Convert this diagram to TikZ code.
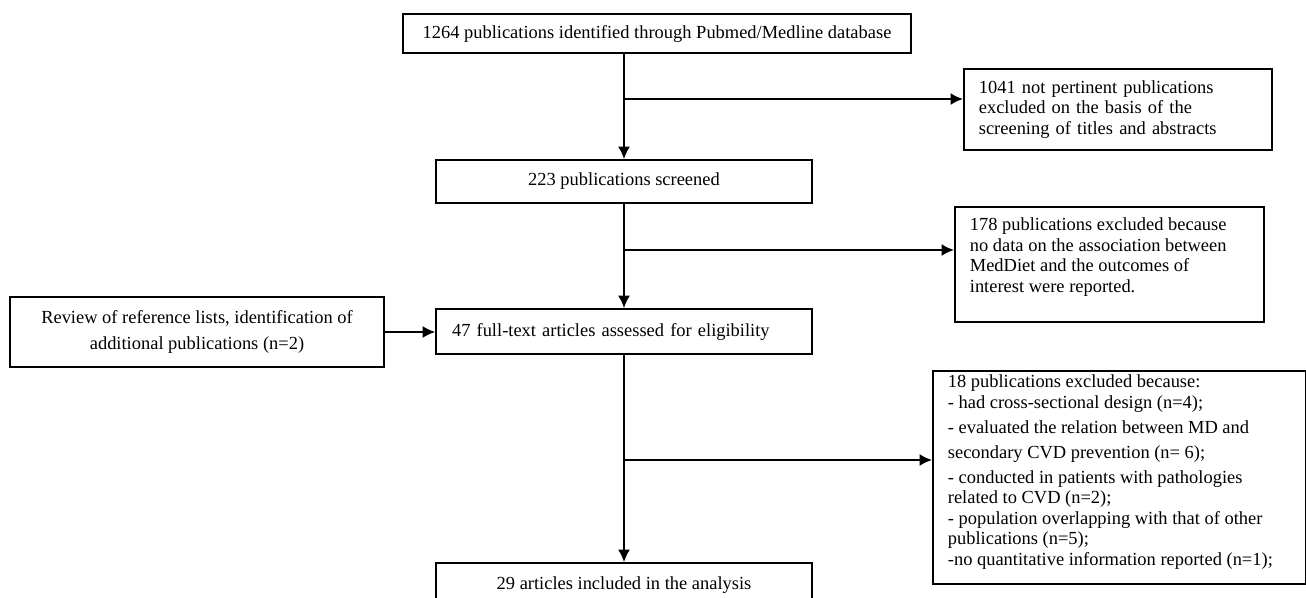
\documentclass[tikz,border=0pt]{standalone}
\usepackage{fontspec}
\setmainfont{Liberation Serif}
\usetikzlibrary{arrows.meta, positioning}

% text block pinned to the top of a fixed-height box
\newcommand{\topbox}[3]{\parbox[t][#1][t]{#2}{\raggedright #3}}

\begin{document}
\begin{tikzpicture}[x=0.02cm, y=-0.02cm, >={Latex[length=0.25cm, width=0.24cm]}, line width=1pt,
    stagebox/.style={draw, rectangle, minimum width=7.52cm, minimum height=0.88cm, align=center, font=\fontsize{10.5}{11.7}\selectfont},
    exclbox/.style={draw, rectangle, anchor=north west, inner xsep=0.3cm, font=\fontsize{10.5}{11.7}\selectfont}]

    \path[use as bounding box, clip] (0,0) rectangle (1306,598);

    % Nodes
    \node (pubmed) [stagebox, minimum width=10.16cm, minimum height=0.78cm] at (657,33.5) {1264 publications identified through Pubmed/Medline database};
    \node (screened) [stagebox, minimum height=0.86cm] at (624,181.5) {223 publications screened};
    \node (fulltext) [stagebox, minimum height=0.9cm, text width=6.88cm, inner xsep=0.32cm, align=left] at (624,331.5) {47 full-text articles assessed for eligibility};
    \node (included) [stagebox, minimum height=0.9cm] at (624,585.5) {29 articles included in the analysis};
    \node (review) [stagebox, minimum width=7.48cm, minimum height=1.4cm] at (197,332) {Review of reference lists, identification of\\[3.6pt] additional publications (n=2)};
    \node (excl1) [exclbox, inner ysep=0pt, minimum height=1.62cm, text width=5.56cm, align=left] at (963,68) {1041 not pertinent publications\\ excluded on the basis of the\\ screening of titles and abstracts};
    \node (excl2) [exclbox, inner ysep=0.22cm] at (954,206) {\topbox{1.86cm}{5.58cm}{178 publications excluded because\\ no data on the association between\\ MedDiet and the outcomes of\\ interest were reported.}};
    \node (excl3) [exclbox, inner ysep=0.08cm] at (932,370) {\topbox{4.1cm}{6.86cm}{18 publications excluded because:\\
        - had cross-sectional design (n=4);\\[2.5pt]
        - evaluated the relation between MD and\\[2.5pt]
        secondary CVD prevention (n= 6);\\[2.5pt]
        - conducted in patients with pathologies\\
        related to CVD (n=2);\\
        - population overlapping with that of other\\
        publications (n=5);\\
        -no quantitative information reported (n=1);}};

    % Branch points
    \coordinate (split1) at (624,99);
    \coordinate (split2) at (624,250);
    \coordinate (split3) at (624,460);

    % Links
    \draw[->] (pubmed.south -| screened.north) -- (screened.north);
    \draw[->] (split1) -- (split1 -| excl1.west);
    \draw[->] (screened.south) -- (fulltext.north);
    \draw[->] (split2) -- (split2 -| excl2.west);
    \draw[->] (review.east) -- (review.east -| fulltext.west);
    \draw[->] (fulltext.south) -- (included.north);
    \draw[->] (split3) -- (split3 -| excl3.west);
\end{tikzpicture}
\end{document}
